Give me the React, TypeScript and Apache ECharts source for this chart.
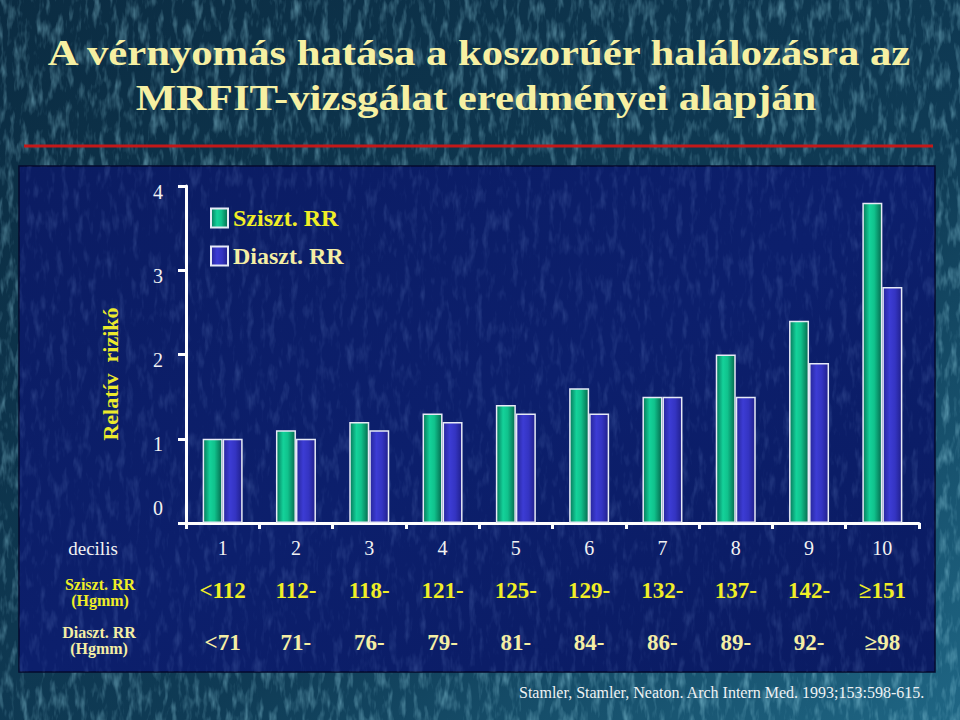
import React, { useEffect, useRef } from "react";
import * as echarts from "echarts";

const deciles = ["1", "2", "3", "4", "5", "6", "7", "8", "9", "10"];
const szisztRR = [1.0, 1.1, 1.2, 1.3, 1.4, 1.6, 1.5, 2.0, 2.4, 3.8];
const diasztRR = [1.0, 1.0, 1.1, 1.2, 1.3, 1.3, 1.5, 1.5, 1.9, 2.8];
const szisztRanges = ["<112", "112-", "118-", "121-", "125-", "129-", "132-", "137-", "142-", "≥151"];
const diasztRanges = ["<71", "71-", "76-", "79-", "81-", "84-", "86-", "89-", "92-", "≥98"];
const yMin = 0;
const yMax = 4;
const yInterval = 1;

const SERIF = '"Liberation Serif", "Times New Roman", serif';
const YELLOW = "#f0ee26";
const CREAM = "#f4eea4";

function noiseSvg(w: number, h: number, freq: string, seed: number, r: number, g: number, b: number, a: number, off: number) {
  const svg =
    `<svg xmlns='http://www.w3.org/2000/svg' width='${w}' height='${h}'>` +
    `<filter id='n' x='0' y='0' width='100%' height='100%'>` +
    `<feTurbulence type='fractalNoise' baseFrequency='${freq}' numOctaves='3' seed='${seed}'/>` +
    `<feColorMatrix values='0 0 0 0 ${r}  0 0 0 0 ${g}  0 0 0 0 ${b}  0 0 0 ${a} ${off}'/>` +
    `</filter><rect width='100%' height='100%' filter='url(#n)'/></svg>`;
  return "data:image/svg+xml;charset=utf-8," + encodeURIComponent(svg);
}

export default function App() {
  const ref = useRef<HTMLDivElement>(null);

  useEffect(() => {
    if (!ref.current) return;
    const chart = echarts.init(ref.current, null, { renderer: "svg" });

    const greenGrad = new echarts.graphic.LinearGradient(0, 0, 1, 0, [
      { offset: 0, color: "#05785a" },
      { offset: 0.35, color: "#14d29a" },
      { offset: 0.6, color: "#10c28c" },
      { offset: 1, color: "#056a4e" },
    ]);
    const blueGrad = new echarts.graphic.LinearGradient(0, 0, 1, 0, [
      { offset: 0, color: "#26269a" },
      { offset: 0.35, color: "#3c3cd4" },
      { offset: 0.65, color: "#3434c2" },
      { offset: 1, color: "#20208c" },
    ]);

    const outerTexture = noiseSvg(960, 720, "0.14 0.045", 7, 0.35, 0.75, 0.88, 1.8, -0.85);
    const panelTexture = noiseSvg(916, 506, "0.14 0.045", 11, 0.25, 0.4, 0.8, 1.6, -0.8);

    const option: any = {
      animation: false,
      backgroundColor: new echarts.graphic.LinearGradient(0, 0, 1, 1, [
        { offset: 0, color: "#0b2c42" },
        { offset: 0.6, color: "#0f3b55" },
        { offset: 1, color: "#1f6684" },
      ]),
      grid: { left: 186, right: 41, top: 186, bottom: 197, containLabel: false },
      legend: {
        orient: "vertical",
        left: 210,
        top: 206,
        padding: 0,
        itemWidth: 17,
        itemHeight: 19,
        itemGap: 14,
        icon: "rect",
        textStyle: { fontFamily: SERIF, fontWeight: "bold", fontSize: 24 },
        data: [
          { name: "Sziszt. RR", textStyle: { color: YELLOW } },
          { name: "Diaszt. RR", textStyle: { color: CREAM } },
        ],
      },
      xAxis: [
        {
          type: "category",
          data: deciles,
          position: "bottom",
          axisLine: { show: true, lineStyle: { color: "#ffffff", width: 3 } },
          axisTick: { show: true, length: 6, interval: 0, lineStyle: { color: "#ffffff", width: 3 } },
          axisLabel: { color: "#f2f2f2", fontFamily: SERIF, fontSize: 20, margin: 15, interval: 0 },
          splitLine: { show: false },
        },
        {
          type: "category",
          data: szisztRanges,
          position: "bottom",
          axisLine: { show: false },
          axisTick: { show: false },
          axisLabel: { color: YELLOW, fontFamily: SERIF, fontWeight: "bold", fontSize: 23, margin: 56, interval: 0 },
          splitLine: { show: false },
        },
        {
          type: "category",
          data: diasztRanges,
          position: "bottom",
          axisLine: { show: false },
          axisTick: { show: false },
          axisLabel: { color: CREAM, fontFamily: SERIF, fontWeight: "bold", fontSize: 23, margin: 108, interval: 0 },
          splitLine: { show: false },
        },
      ],
      yAxis: {
        type: "value",
        min: yMin,
        max: yMax,
        interval: yInterval,
        axisLine: { show: true, lineStyle: { color: "#ffffff", width: 3 } },
        axisTick: { show: true, length: 8, lineStyle: { color: "#ffffff", width: 3 } },
        splitLine: { show: false },
        axisLabel: {
          margin: 23,
          formatter: (v: number) => (v === 0 ? `{z|${v}}` : `{n|${v}}`),
          rich: {
            n: { color: "#f2f2f2", fontFamily: SERIF, fontSize: 20, padding: [11, 0, 0, 0] },
            z: { color: "#f2f2f2", fontFamily: SERIF, fontSize: 20, padding: [0, 0, 31, 0] },
          },
        },
      },
      series: [
        {
          name: "Sziszt. RR",
          type: "bar",
          data: szisztRR,
          barWidth: 20,
          barGap: "0%",
          itemStyle: { color: greenGrad, borderColor: "#e6eaf6", borderWidth: 1.5 },
        },
        {
          name: "Diaszt. RR",
          type: "bar",
          data: diasztRR,
          barWidth: 20,
          barGap: "0%",
          itemStyle: { color: blueGrad, borderColor: "#e6eaf6", borderWidth: 1.5 },
        },
      ],
      graphic: [
        {
          type: "image",
          z: -3,
          silent: true,
          style: { image: outerTexture, x: 0, y: 0, width: 960, height: 720, opacity: 0.55 },
        },
        {
          type: "rect",
          z: -2,
          shape: { x: 19, y: 166, width: 916, height: 506 },
          style: {
            fill: new echarts.graphic.LinearGradient(0, 0, 1, 1, [
              { offset: 0, color: "#0b1c62" },
              { offset: 0.5, color: "#0c1f6c" },
              { offset: 1, color: "#0a1b62" },
            ]),
            stroke: "#040a2c",
            lineWidth: 1.5,
          },
        },
        {
          type: "image",
          z: -1,
          silent: true,
          style: { image: panelTexture, x: 19, y: 166, width: 916, height: 506, opacity: 0.3 },
        },
        {
          type: "line",
          z: -1,
          shape: { x1: 24, y1: 146, x2: 933, y2: 146 },
          style: { stroke: "#c41818", lineWidth: 3 },
        },
        {
          type: "text",
          x: 479,
          y: 53,
          scaleX: 1.22,
          z: 5,
          style: {
            text: "A vérnyomás hatása a koszorúér halálozásra az",
            fill: "#f6f0a2",
            fontFamily: SERIF,
            fontWeight: "bold",
            fontSize: 35,
            align: "center",
            verticalAlign: "middle",
          },
        },
        {
          type: "text",
          x: 476,
          y: 98,
          scaleX: 1.22,
          z: 5,
          style: {
            text: "MRFIT-vizsgálat eredményei alapján",
            fill: "#f6f0a2",
            fontFamily: SERIF,
            fontWeight: "bold",
            fontSize: 35,
            align: "center",
            verticalAlign: "middle",
          },
        },
        {
          type: "text",
          x: 110,
          y: 374,
          rotation: Math.PI / 2,
          z: 5,
          style: {
            text: "Relatív  rizikó",
            fill: "#ecea2c",
            fontFamily: SERIF,
            fontWeight: "bold",
            fontSize: 22,
            align: "center",
            verticalAlign: "middle",
          },
        },
        {
          type: "text",
          x: 93,
          y: 548,
          z: 5,
          style: {
            text: "decilis",
            fill: "#f2f2f2",
            fontFamily: SERIF,
            fontSize: 19,
            align: "center",
            verticalAlign: "middle",
          },
        },
        {
          type: "text",
          x: 100,
          y: 584,
          z: 5,
          style: { text: "Sziszt. RR", fill: YELLOW, fontFamily: SERIF, fontWeight: "bold", fontSize: 16, align: "center", verticalAlign: "middle" },
        },
        {
          type: "text",
          x: 100,
          y: 600,
          z: 5,
          style: { text: "(Hgmm)", fill: YELLOW, fontFamily: SERIF, fontWeight: "bold", fontSize: 16, align: "center", verticalAlign: "middle" },
        },
        {
          type: "text",
          x: 99,
          y: 632,
          z: 5,
          style: { text: "Diaszt. RR", fill: CREAM, fontFamily: SERIF, fontWeight: "bold", fontSize: 16, align: "center", verticalAlign: "middle" },
        },
        {
          type: "text",
          x: 99,
          y: 648,
          z: 5,
          style: { text: "(Hgmm)", fill: CREAM, fontFamily: SERIF, fontWeight: "bold", fontSize: 16, align: "center", verticalAlign: "middle" },
        },
        {
          type: "text",
          x: 519,
          y: 692,
          z: 5,
          style: {
            text: "Stamler, Stamler, Neaton. Arch Intern Med. 1993;153:598-615.",
            fill: "#eef2f4",
            fontFamily: SERIF,
            fontSize: 16,
            align: "left",
            verticalAlign: "middle",
          },
        },
      ],
    };

    chart.setOption(option);
    return () => {
      chart.dispose();
    };
  }, []);

  return (
    <div
      ref={ref}
      style={{ position: "fixed", left: 0, top: 0, width: 960, height: 720 }}
    />
  );
}
